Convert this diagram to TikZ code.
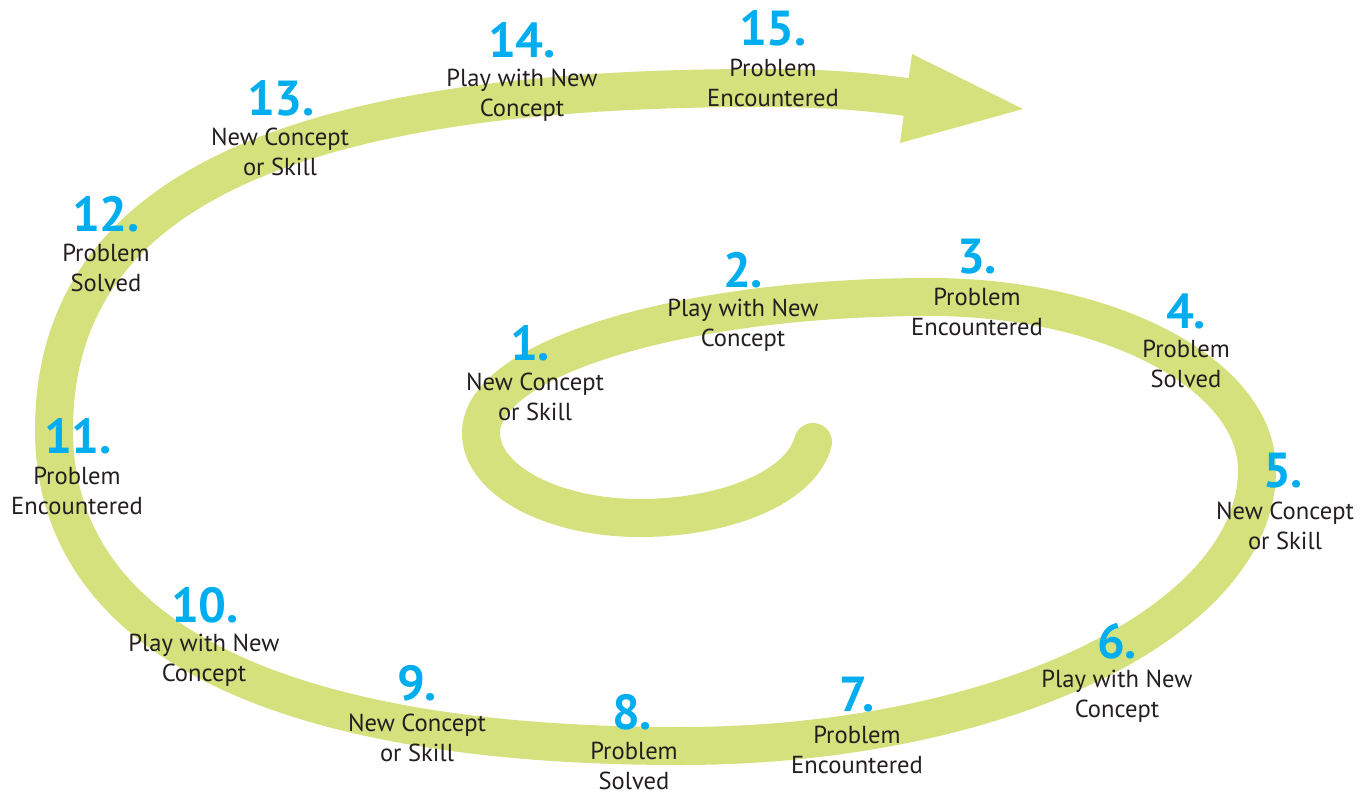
\documentclass[tikz,border=0pt]{standalone}
\usepackage{fontspec}
\setmainfont{PT Sans}
\usepackage{tikz}

\definecolor{bandgreen}{RGB}{212,225,125}
\definecolor{numblue}{RGB}{0,174,239}
\definecolor{textgray}{RGB}{35,31,32}

\tikzset{
  stepnum/.style={text=numblue, inner sep=0pt, font=\bfseries\fontsize{28}{28}\selectfont},
  steptext/.style={text=textgray, align=center, inner sep=0pt, font=\fontsize{14}{17}\selectfont},
}

\begin{document}
\begin{tikzpicture}[x=0.02cm, y=-0.02cm]
        \useasboundingbox (0, 0) rectangle (1371, 794);

        % the spiral band, from the centre outwards
        \draw [bandgreen, line width=0.76cm, line cap=round]
            (813, 442) .. controls (800, 490) and (720, 518) .. (640, 518)
            .. controls (552, 518) and (481, 480) .. (481, 433)
            .. controls (481, 358) and (682, 297) .. (930, 297)
            .. controls (1110, 297) and (1257, 375) .. (1257, 470)
            .. controls (1257, 622) and (998, 746) .. (680, 746)
            .. controls (273, 746) and (54, 635) .. (54, 430)
            .. controls (54, 197) and (280, 88) .. (760, 88)
            .. controls (830, 88) and (870, 92) .. (906, 97);
        \fill [bandgreen] (912, 54) -- (1023, 109) -- (900, 143) -- cycle;

        % inner turn
        \node [stepnum] (n1) at (530, 343) {1.};
        \node [steptext] (t1) at (535, 397) {New Concept\\or Skill};
        \node [stepnum] (n2) at (743, 270) {2.};
        \node [steptext] (t2) at (743, 325) {Play with New\\Concept};
        \node [stepnum] (n3) at (977, 257) {3.};
        \node [steptext] (t3) at (977, 312) {Problem\\Encountered};
        \node [stepnum] (n4) at (1186, 311) {4.};
        \node [steptext] (t4) at (1186, 364) {Problem\\Solved};
        \node [stepnum] (n5) at (1283, 471) {5.};
        \node [steptext] (t5) at (1285, 526) {New Concept\\or Skill};

        % outer turn
        \node [stepnum] (n6) at (1117, 641) {6.};
        \node [steptext] (t6) at (1117, 696) {Play with New\\Concept};
        \node [stepnum] (n7) at (857, 695) {7.};
        \node [steptext] (t7) at (857, 750) {Problem\\Encountered};
        \node [stepnum] (n8) at (632, 712) {8.};
        \node [steptext] (t8) at (634, 766) {Problem\\Solved};
        \node [stepnum] (n9) at (417, 683) {9.};
        \node [steptext] (t9) at (417, 738) {New Concept\\or Skill};
        \node [stepnum] (n10) at (205, 605) {10.};
        \node [steptext] (t10) at (204, 660) {Play with New\\Concept};
        \node [stepnum] (n11) at (78, 436) {11.};
        \node [steptext] (t11) at (77, 491) {Problem\\Encountered};
        \node [stepnum] (n12) at (106, 214) {12.};
        \node [steptext] (t12) at (106, 268) {Problem\\Solved};
        \node [stepnum] (n13) at (281, 98) {13.};
        \node [steptext] (t13) at (280, 152) {New Concept\\or Skill};
        \node [stepnum] (n14) at (522, 40) {14.};
        \node [steptext] (t14) at (522, 95) {Play with New\\Concept};
        \node [stepnum] (n15) at (773, 28) {15.};
        \node [steptext] (t15) at (773, 83) {Problem\\Encountered};
\end{tikzpicture}
\end{document}
